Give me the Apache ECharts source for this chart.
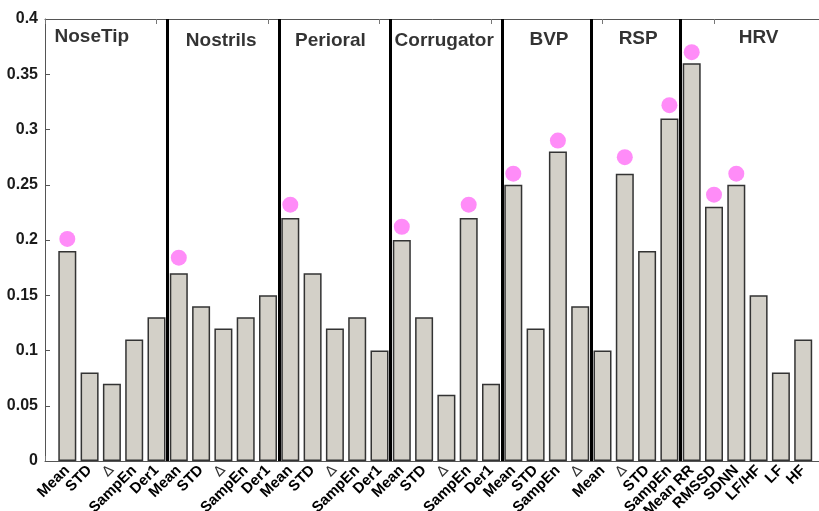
<!DOCTYPE html>
<html>
<head>
<meta charset="utf-8">
<script src="https://cdn.jsdelivr.net/npm/echarts@6/dist/echarts.min.js"></script>
<style>
  html, body { margin: 0; padding: 0; background: #fff; }
  #chart { width: 819px; height: 511px; }
</style>
</head>
<body>
<div id="chart"></div>
<script>
// feature names along the x axis, group by group
var featureNames = [
  'Mean', 'STD', 'Δ', 'SampEn', 'Der1',
  'Mean', 'STD', 'Δ', 'SampEn', 'Der1',
  'Mean', 'STD', 'Δ', 'SampEn', 'Der1',
  'Mean', 'STD', 'Δ', 'SampEn', 'Der1',
  'Mean', 'STD', 'SampEn', 'Δ',
  'Mean', 'Δ', 'STD', 'SampEn',
  'Mean RR', 'RMSSD', 'SDNN', 'LF/HF', 'LF', 'HF'
];
// bar heights
var barValues = [
  0.19, 0.08, 0.07, 0.11, 0.13,
  0.17, 0.14, 0.12, 0.13, 0.15,
  0.22, 0.17, 0.12, 0.13, 0.10,
  0.20, 0.13, 0.06, 0.22, 0.07,
  0.25, 0.12, 0.28, 0.14,
  0.10, 0.26, 0.19, 0.31,
  0.36, 0.23, 0.25, 0.15, 0.08, 0.11
];
// pink markers: [feature index (1-based), value]
var markerPoints = [
  [1, 0.201], [6, 0.184], [11, 0.232], [16, 0.212], [19, 0.232],
  [21, 0.26], [23, 0.29], [26, 0.275], [28, 0.322],
  [29, 0.37], [30, 0.241], [31, 0.26]
];
// group titles and where they sit: [title, x, y]
var groupTitles = [
  ['NoseTip', 2.1, 0.384],
  ['Nostrils', 7.9, 0.380],
  ['Perioral', 12.8, 0.380],
  ['Corrugator', 17.9, 0.380],
  ['BVP', 22.6, 0.381],
  ['RSP', 26.6, 0.382],
  ['HRV', 32.0, 0.383]
];
// group separators
var separators = [5.5, 10.5, 15.5, 20.5, 24.5, 28.5];

var chart = echarts.init(document.getElementById('chart'));

var barData = barValues.map(function (v, i) { return [i + 1, v]; });
var fontFam = '"Liberation Sans", Arial, sans-serif';

var option = {
  animation: false,
  grid: { left: 45, top: 19, width: 780.5, height: 442, containLabel: false, outerBoundsMode: 'none' },
  xAxis: [{
    type: 'value', min: 0, max: 35, interval: 1, position: 'bottom',
    axisLine: { show: true, lineStyle: { color: '#555', width: 1 } },
    axisTick: { show: false },
    splitLine: { show: false },
    axisLabel: {
      rotate: 45, margin: 7, fontFamily: fontFam, fontWeight: 'bold', fontSize: 15, color: '#000',
      rich: { d: { fontFamily: '"DejaVu Sans", sans-serif', fontWeight: 'normal', fontSize: 14, color: '#333' } },
      formatter: function (v) {
        var i = Math.round(v) - 1;
        if (i < 0 || i >= featureNames.length || Math.abs(v - i - 1) > 1e-6) return '';
        var s = featureNames[i];
        return s === 'Δ' ? '{d|∆}' : s;
      }
    }
  }, {
    type: 'value', min: 0, max: 35, interval: 5, position: 'bottom',
    axisLine: { show: false },
    axisTick: { show: true, inside: true, length: 5, lineStyle: { color: '#777' } },
    axisLabel: { show: false }, splitLine: { show: false }
  }, {
    type: 'value', min: 0, max: 35, interval: 5, position: 'top',
    axisLine: { show: true, lineStyle: { color: '#555', width: 1 } },
    axisTick: { show: true, inside: true, length: 5, lineStyle: { color: '#777' } },
    axisLabel: { show: false }, splitLine: { show: false }
  }],
  yAxis: {
    type: 'value', min: 0, max: 0.4, interval: 0.05,
    axisLine: { show: true, lineStyle: { color: '#555', width: 1 } },
    axisTick: { show: true, inside: true, length: 5, lineStyle: { color: '#555' } },
    splitLine: { show: false },
    axisLabel: {
      fontFamily: fontFam, fontWeight: 'bold', fontSize: 16, color: '#1a1a1a', margin: 7,
      formatter: function (v) { return String(parseFloat(v.toFixed(2))); }
    }
  },
  series: [{
    type: 'bar',
    data: barData,
    barWidth: 18,
    itemStyle: { color: '#d3d0c8', borderColor: '#333', borderWidth: 1.5 },
    markLine: {
      silent: true, symbol: 'none', label: { show: false },
      lineStyle: { color: '#000', width: 3, type: 'solid' },
      data: separators.map(function (x) { return { xAxis: x }; })
    },
    z: 2
  }, {
    type: 'scatter',
    data: markerPoints,
    symbolSize: 16,
    itemStyle: { color: '#ff8cf8', opacity: 1 },
    z: 3
  }, {
    type: 'scatter',
    data: groupTitles.map(function (g) { return { value: [g[1], g[2]], name: g[0] }; }),
    symbolSize: 0,
    label: {
      show: true, position: 'inside', formatter: '{b}',
      fontFamily: fontFam, fontWeight: 'bold', fontSize: 19, color: '#000'
    },
    z: 4
  }]
};

chart.setOption(option);
</script>
</body>
</html>
